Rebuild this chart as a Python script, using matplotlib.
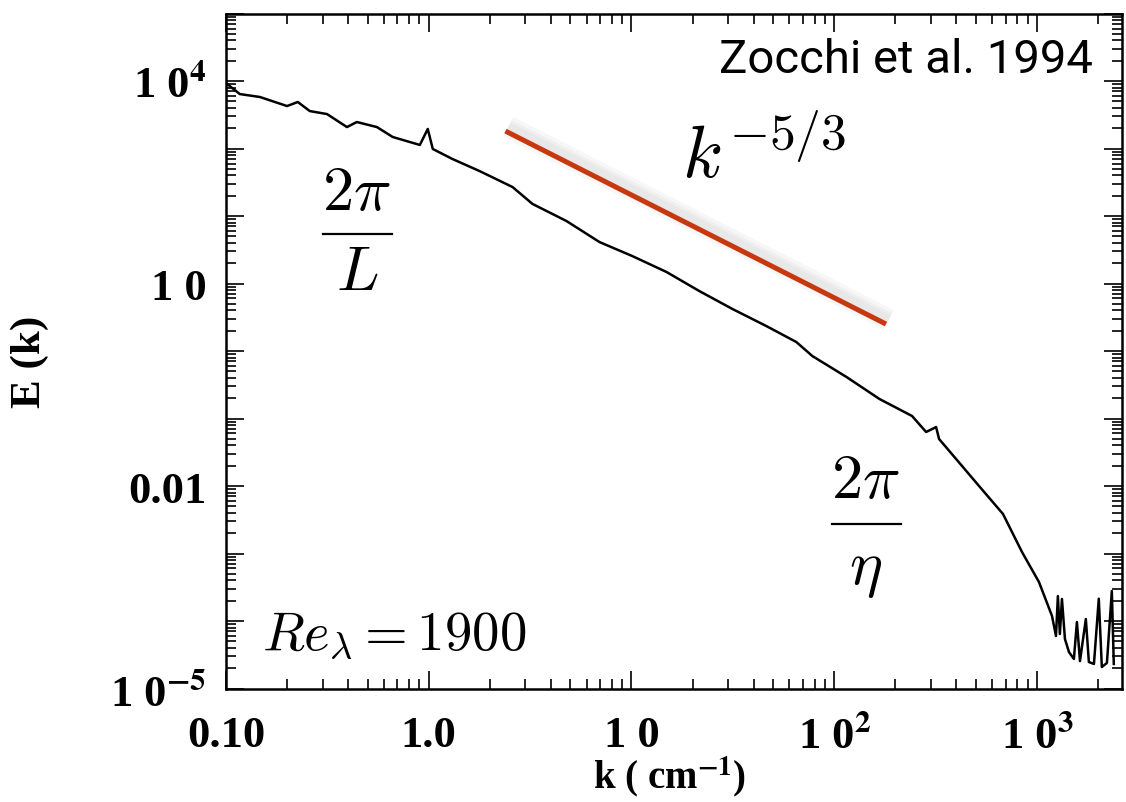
import numpy as np
import matplotlib.pyplot as plt
from matplotlib import patheffects as pe
from matplotlib.ticker import LogLocator, NullFormatter

# spectrum E(k)
k_values = [0.100, 0.117, 0.147, 0.200, 0.226, 0.259, 0.315, 0.395, 0.442, 0.555,
            0.665, 0.904, 0.989, 1.047, 1.31, 1.78, 2.59, 3.25, 4.78, 6.95,
            10.1, 14.9, 21.6, 31.5, 46.3, 65.0, 78.0, 115, 167, 242,
            284, 318, 329, 427, 518, 680, 844, 1023, 1186, 1241,
            1268, 1297, 1328, 1374, 1438, 1521, 1574, 1630, 1742, 1803,
            1910, 2018, 2089, 2213, 2340, 2393]
E_values = [9330, 6410, 5800, 4260, 4890, 3590, 3240, 2080, 2470, 2080,
            1480, 1130, 1950, 985, 699, 464, 269, 151, 84.3, 41.2,
            25.5, 14.8, 7.74, 4.19, 2.34, 1.36, 0.843, 0.412, 0.195, 0.109,
            0.0631, 0.0748, 0.0497, 0.0198, 0.0100, 0.00385, 0.00105, 3.78e-4, 1.19e-4, 6.0e-5,
            2.34e-4, 6.41e-5, 2.12e-4, 5.41e-5, 3.47e-5, 2.74e-5, 9.66e-5, 2.55e-5, 1.07e-4, 2.47e-5,
            2.31e-5, 2.14e-4, 2.08e-5, 2.39e-5, 2.78e-4, 2.31e-5]

# reference power-law segment
slope_k = [2.39, 180]
slope_E = [1816, 2.51]

x_ticks = [0.1, 1, 10, 100, 1000]
x_labels = ["0.10", "1.0", "1 0", r"1 0$^{\mathbf{2}}$", r"1 0$^{\mathbf{3}}$"]
y_ticks = [1e-5, 1e-4, 1e-3, 1e-2, 1e-1, 1, 10, 100, 1e3, 1e4, 1e5]
y_labels = [r"1 0$^{\mathbf{-5}}$", "", "", "0.01", "", "", "1 0", "", "",
            r"1 0$^{\mathbf{4}}$", ""]

fig = plt.figure(figsize=(11.26, 8.03), dpi=100)
ax = fig.add_axes([0.2007, 0.1413, 0.7957, 0.8406])
ax.set_xscale("log")
ax.set_yscale("log")
ax.set_xlim(0.1, 2625)
ax.set_ylim(0.999e-5, 1e5)

ax.plot(k_values, E_values, color="black", lw=1.8, solid_joinstyle="round")

shadow = [pe.SimpleLineShadow(offset=(2, 3), shadow_color="0.4", alpha=0.05, linewidth=w)
          for w in (16, 11, 7)]
ax.plot(slope_k, slope_E, color="#C8380F", lw=3.6, solid_capstyle="butt",
        path_effects=shadow + [pe.Normal()])

# ticks: inward on all four sides
ax.set_xticks(x_ticks, x_labels)
ax.set_yticks(y_ticks, y_labels)
ax.xaxis.set_minor_locator(LogLocator(base=10, subs=np.arange(2, 10), numticks=100))
ax.yaxis.set_minor_locator(LogLocator(base=10, subs=np.arange(2, 10), numticks=100))
ax.xaxis.set_minor_formatter(NullFormatter())
ax.yaxis.set_minor_formatter(NullFormatter())
ax.tick_params(which="both", direction="in", top=True, right=True, width=1.2)
ax.tick_params(which="major", length=13)
ax.tick_params(which="minor", length=7)
ax.tick_params(axis="x", which="major", pad=19)
ax.tick_params(axis="y", which="major", pad=14)
for lab in ax.get_xticklabels() + ax.get_yticklabels():
    lab.set_fontfamily("Liberation Serif")
    lab.set_fontweight("bold")
    lab.set_fontsize(32)
    lab.set_math_fontfamily("stix")
for sp in ax.spines.values():
    sp.set_linewidth(1.8)

ax.set_xlabel(r"k ( cm$^{\mathbf{-1}}$)", family="Liberation Serif", fontweight="bold",
              fontsize=28, math_fontfamily="stix", va="baseline")
ax.xaxis.set_label_coords(0.4955, -0.147)
ax.set_ylabel("E (k)", family="Liberation Serif", fontweight="bold", fontsize=31)
ax.yaxis.set_label_coords(-0.197, 0.485)

ax.text(0.968, 0.913, "Zocchi et al. 1994", transform=ax.transAxes, ha="right",
        va="baseline", family="Roboto", fontweight="normal", fontsize=34)
ax.text(0.509, 0.758, r"$k^{-5/3}$", transform=ax.transAxes, ha="left", va="baseline",
        fontsize=53, math_fontfamily="cm")
ax.text(0.040, 0.0585, r"$Re_\lambda = 1900$", transform=ax.transAxes, ha="left",
        va="baseline", fontsize=39.5, math_fontfamily="cm")

# 2pi/L and 2pi/eta drawn as stacked numerator, bar and denominator
fractions = [(0.1460, 0.7104, 0.6733, 0.5919, (0.1083, 0.1853), r"$L$"),
             (0.7137, 0.2837, 0.2437, 0.1563, (0.6763, 0.7533), r"$\eta$")]
for xc, y_num, y_bar, y_den, bar_x, den in fractions:
    ax.text(xc, y_num, r"$2\pi$", transform=ax.transAxes, ha="center", va="baseline",
            fontsize=45, math_fontfamily="cm")
    ax.plot(bar_x, [y_bar, y_bar], transform=ax.transAxes, color="black", lw=1.6)
    ax.text(xc, y_den, den, transform=ax.transAxes, ha="center", va="baseline",
            fontsize=45, math_fontfamily="cm")

fig.savefig("out.png", dpi=100)
